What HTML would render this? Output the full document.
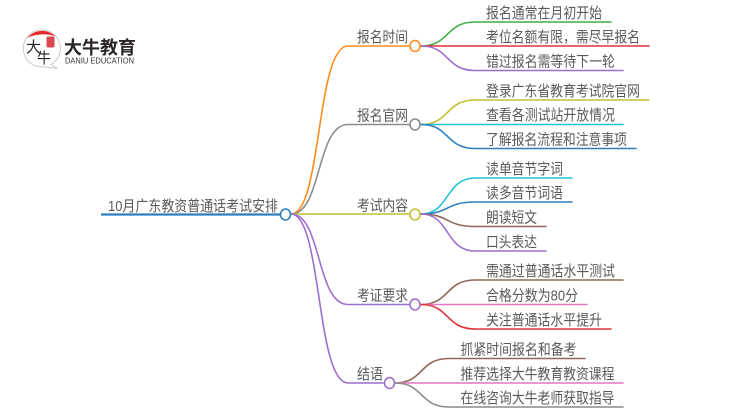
<!DOCTYPE html>
<html><head><meta charset="utf-8"><style>
html,body{margin:0;padding:0;background:#fff;width:750px;height:410px;overflow:hidden}
svg{display:block;filter:blur(.35px)}
text{font-family:"Liberation Sans","Noto Sans CJK SC",sans-serif;font-size:15px;fill:#5a5a5a}
.l{fill:none;stroke-width:1.6;stroke-linecap:round}
.n{fill:#fff;stroke-width:1.6}
</style></head><body>
<svg width="750" height="410" viewBox="0 0 750 410" xmlns="http://www.w3.org/2000/svg">
<!-- logo -->
<path d="M36 66A18.500 18.500 0 1 1 51 64.500L57.500 68.500Z" fill="#fff" stroke="#c9c9c9" stroke-width="1"/>
<path d="M27.500 38A18.500 18.500 0 0 1 55.500 36.500C49 33.500 35 33.500 27.500 38Z" fill="#e5262a"/>
<rect x="46.500" y="36.500" width="8" height="11" rx="1.500" fill="#d9484c"/>
<text x="26" y="52" style="font-size:15px;fill:#222" textLength="15" lengthAdjust="spacingAndGlyphs">大</text>
<text x="37" y="63" style="font-size:15px;fill:#222" textLength="14" lengthAdjust="spacingAndGlyphs">牛</text>
<text x="64" y="54" style="font-size:18px;fill:#2b2726;font-weight:700" textLength="72" lengthAdjust="spacingAndGlyphs">大牛教育</text>
<text x="65" y="63.500" style="font-size:8px;fill:#333" textLength="69" lengthAdjust="spacingAndGlyphs">DANIU EDUCATION</text>

<!-- main -->
<path class="l" d="M291 214C322 214 316 46 348 46L409 46" stroke="#ff8c1f"/>
<path class="l" d="M291 214C322 214 316 124.500 348 124.500L409 124.500" stroke="#8c8c8c"/>
<path class="l" d="M291 214L409 214" stroke="#c4c030"/>
<path class="l" d="M291 214C322 214 316 304.500 348 304.500L409 304.500" stroke="#9d6fd0"/>
<path class="l" d="M291 214C322 214 316 383 348 383L383 383" stroke="#9d6fd0"/>
<path d="M101 214.500L280 214.500" stroke="#2a7fc0" stroke-width="2.200" fill="none"/>

<!-- group 1 -->
<path class="l" d="M421 46C450 46 445 22 475 22L611 22" stroke="#3fae49"/>
<path class="l" d="M421 46L649 46" stroke="#e0323a"/>
<path class="l" d="M421 46C450 46 445 70.500 475 70.500L623 70.500" stroke="#9d6fd0"/>
<!-- group 2 -->
<path class="l" d="M421 124.500C450 124.500 445 100 475 100L649 100" stroke="#c4c030"/>
<path class="l" d="M421 124.500L623 124.500" stroke="#1fc4d8"/>
<path class="l" d="M421 124.500C450 124.500 445 148.500 475 148.500L636 148.500" stroke="#2a7fc0"/>
<!-- group 3 -->
<path class="l" d="M421 214C450 214 445 178 475 178L572 178" stroke="#1fc4d8"/>
<path class="l" d="M421 214C450 214 445 202 475 202L572 202" stroke="#2a7fc0"/>
<path class="l" d="M421 214C450 214 445 226.500 475 226.500L546 226.500" stroke="#96655a"/>
<path class="l" d="M421 214C450 214 445 251 475 251L546 251" stroke="#9d6fd0"/>
<!-- group 4 -->
<path class="l" d="M421 304.500C450 304.500 445 280 475 280L623 280" stroke="#96655a"/>
<path class="l" d="M421 304.500L587 304.500" stroke="#e377c2"/>
<path class="l" d="M421 304.500C450 304.500 445 329 475 329L611 329" stroke="#e0323a"/>
<!-- group 5 -->
<path class="l" d="M395 383C424 383 419 358.500 449 358.500L585 358.500" stroke="#96655a"/>
<path class="l" d="M395 383L623 383" stroke="#e377c2"/>
<path class="l" d="M395 383C424 383 419 407 449 407L623 407" stroke="#8c8c8c"/>

<!-- nodes -->
<ellipse class="n" cx="285.500" cy="214.500" rx="5" ry="5.500" stroke="#2a7fc0"/>
<ellipse class="n" cx="415" cy="46" rx="5" ry="5.500" stroke="#ff8c1f"/>
<ellipse class="n" cx="415" cy="124.500" rx="5" ry="5.500" stroke="#8c8c8c"/>
<ellipse class="n" cx="415" cy="214.500" rx="5" ry="5.500" stroke="#c4c030"/>
<ellipse class="n" cx="415" cy="304.500" rx="5" ry="5.500" stroke="#9d6fd0"/>
<ellipse class="n" cx="389.500" cy="383" rx="5" ry="5.500" stroke="#9d6fd0"/>

<!-- labels -->
<text x="108" y="211" textLength="170" lengthAdjust="spacingAndGlyphs">10月广东教资普通话考试安排</text>
<text x="357" y="42" textLength="51" lengthAdjust="spacingAndGlyphs">报名时间</text>
<text x="357" y="120.500" textLength="51" lengthAdjust="spacingAndGlyphs">报名官网</text>
<text x="357" y="210.500" textLength="51" lengthAdjust="spacingAndGlyphs">考试内容</text>
<text x="357" y="300.500" textLength="51" lengthAdjust="spacingAndGlyphs">考证要求</text>
<text x="357" y="379" textLength="26" lengthAdjust="spacingAndGlyphs">结语</text>

<text x="486" y="18" textLength="116" lengthAdjust="spacingAndGlyphs">报名通常在月初开始</text>
<text x="486" y="42" textLength="154" lengthAdjust="spacingAndGlyphs">考位名额有限，需尽早报名</text>
<text x="486" y="66.500" textLength="129" lengthAdjust="spacingAndGlyphs">错过报名需等待下一轮</text>
<text x="486" y="96" textLength="154" lengthAdjust="spacingAndGlyphs">登录广东省教育考试院官网</text>
<text x="486" y="120" textLength="129" lengthAdjust="spacingAndGlyphs">查看各测试站开放情况</text>
<text x="486" y="144.500" textLength="141" lengthAdjust="spacingAndGlyphs">了解报名流程和注意事项</text>
<text x="486" y="174" textLength="77" lengthAdjust="spacingAndGlyphs">读单音节字词</text>
<text x="486" y="198" textLength="77" lengthAdjust="spacingAndGlyphs">读多音节词语</text>
<text x="486" y="222.500" textLength="51" lengthAdjust="spacingAndGlyphs">朗读短文</text>
<text x="486" y="247" textLength="51" lengthAdjust="spacingAndGlyphs">口头表达</text>
<text x="486" y="276" textLength="129" lengthAdjust="spacingAndGlyphs">需通过普通话水平测试</text>
<text x="486" y="300.500" textLength="92" lengthAdjust="spacingAndGlyphs">合格分数为80分</text>
<text x="486" y="325" textLength="116" lengthAdjust="spacingAndGlyphs">关注普通话水平提升</text>
<text x="460.500" y="354.500" textLength="116" lengthAdjust="spacingAndGlyphs">抓紧时间报名和备考</text>
<text x="460.500" y="379" textLength="154" lengthAdjust="spacingAndGlyphs">推荐选择大牛教育教资课程</text>
<text x="460.500" y="403" textLength="154" lengthAdjust="spacingAndGlyphs">在线咨询大牛老师获取指导</text>
</svg>
</body></html>
